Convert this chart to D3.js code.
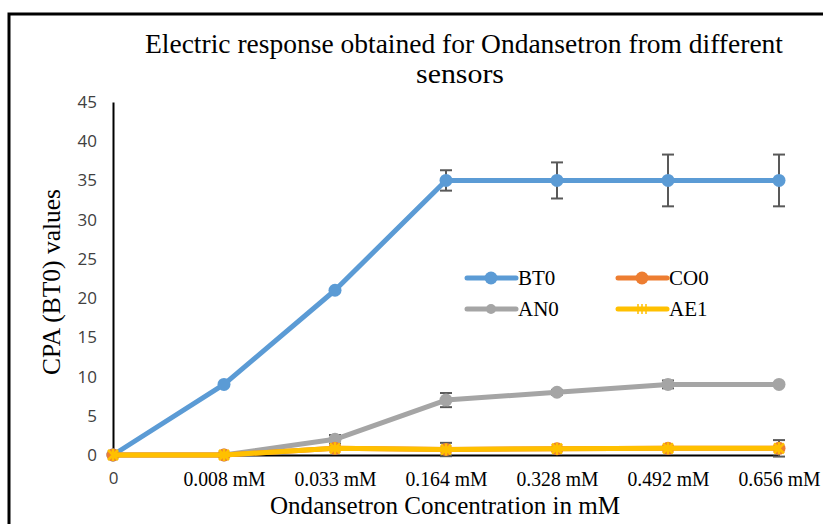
<!DOCTYPE html>
<html>
<head>
<meta charset="utf-8">
<script src="https://cdn.jsdelivr.net/npm/d3@7"></script>
<style>
  body { margin: 0; background: #fff; }
  svg { display: block; }
</style>
</head>
<body>
<div id="chart"></div>
<script>
// values
const categories = ["0", "0.008 mM", "0.033 mM", "0.164 mM", "0.328 mM", "0.492 mM", "0.656 mM"];
const yTicks = [0, 5, 10, 15, 20, 25, 30, 35, 40, 45];

const bt0 = [0, 9, 21, 35, 35, 35, 35];
const bt0Err = [0, 0, 0, 1.3, 2.3, 3.3, 3.3];
const co0 = [0, 0, 0.85, 0.7, 0.8, 0.85, 0.85];
const co0Err = [0, 0, 0.2, 0.85, 0.2, 0.2, 1.05];
const an0 = [0, 0, 2, 7, 8, 9, 9];
const an0Err = [0, 0, 0.55, 0.9, 0.3, 0.5, 0.2];
const ae1 = [0, 0, 0.85, 0.7, 0.8, 0.85, 0.85];

const series = [
  { name: "BT0", values: bt0, err: bt0Err, color: "#5B9BD5", marker: "circle" },
  { name: "AN0", values: an0, err: an0Err, color: "#A5A5A5", marker: "circle" },
  { name: "CO0", values: co0, err: co0Err, color: "#ED7D31", marker: "circle" },
  { name: "AE1", values: ae1, err: null, color: "#FFC000", marker: "star" }
];
const legendOrder = ["BT0", "CO0", "AN0", "AE1"];

const width = 823, height = 524;
const margin = { top: 102, right: 44, bottom: 69, left: 113 };
const serif = "'Liberation Serif', 'Times New Roman', serif";
const sans = "'Open Sans', 'Liberation Sans', sans-serif";

const svg = d3.select("#chart").append("svg")
  .attr("width", width)
  .attr("height", height);

// outer frame (only top and left edges are visible in the picture)
svg.append("path")
  .attr("d", `M9,${height} V14 H${width}`)
  .attr("fill", "none")
  .attr("stroke", "#000")
  .attr("stroke-width", 3);

const x = d3.scalePoint()
  .domain(categories)
  .range([margin.left, width - margin.right]);

const y = d3.scaleLinear()
  .domain([0, 45])
  .range([height - margin.bottom, margin.top]);

// title
const title = svg.append("text")
  .attr("text-anchor", "middle")
  .attr("font-family", serif)
  .attr("font-size", 28)
  .attr("fill", "#000");
title.append("tspan").attr("x", 464).attr("y", 53)
  .attr("textLength", 638).attr("lengthAdjust", "spacingAndGlyphs")
  .text("Electric  response obtained for Ondansetron from different");
title.append("tspan").attr("x", 460).attr("y", 83)
  .attr("textLength", 88).attr("lengthAdjust", "spacingAndGlyphs")
  .text("sensors");

// y axis
const yAxis = svg.append("g")
  .attr("transform", `translate(${margin.left},0)`)
  .call(d3.axisLeft(y).tickValues(yTicks).tickSize(0).tickPadding(16));
yAxis.select(".domain").attr("stroke", "#000").attr("stroke-width", 2);
yAxis.selectAll("text")
  .attr("font-family", sans)
  .attr("font-size", 17)
  .attr("fill", "#404040");

// x axis
const xAxis = svg.append("g")
  .attr("transform", `translate(0,${y(0)})`)
  .call(d3.axisBottom(x).tickSize(0).tickPadding(17));
xAxis.select(".domain").attr("stroke", "#000").attr("stroke-width", 2);
xAxis.selectAll("text")
  .attr("font-family", (d, i) => i === 0 ? sans : serif)
  .attr("font-size", (d, i) => i === 0 ? 17 : 20)
  .attr("fill", (d, i) => i === 0 ? "#404040" : "#000")
  .attr("textLength", (d, i) => i === 0 ? null : 82)
  .attr("lengthAdjust", "spacingAndGlyphs");

// axis titles
svg.append("text")
  .attr("x", 445).attr("y", 514)
  .attr("text-anchor", "middle")
  .attr("font-family", serif)
  .attr("font-size", 25)
  .attr("textLength", 350).attr("lengthAdjust", "spacingAndGlyphs")
  .text("Ondansetron Concentration in mM");

svg.append("text")
  .attr("transform", "translate(60,282) rotate(-90)")
  .attr("text-anchor", "middle")
  .attr("font-family", serif)
  .attr("font-size", 25)
  .attr("textLength", 186).attr("lengthAdjust", "spacingAndGlyphs")
  .text("CPA (BT0) values");

// lines
const line = d3.line()
  .x((d, i) => x(categories[i]))
  .y(d => y(d));

const starPath = "M-5,-5L5,5M-5,5L5,-5M0,-6V6";

series.forEach(s => {
  const g = svg.append("g").attr("class", "series");

  // error bars
  if (s.err) {
    s.values.forEach((v, i) => {
      const e = s.err[i];
      if (!e) return;
      const cx = x(categories[i]);
      const eg = g.append("g").attr("stroke", "#595959").attr("stroke-width", 2);
      eg.append("line").attr("x1", cx).attr("x2", cx).attr("y1", y(v - e)).attr("y2", y(v + e));
      eg.append("line").attr("x1", cx - 6).attr("x2", cx + 6).attr("y1", y(v + e)).attr("y2", y(v + e));
      eg.append("line").attr("x1", cx - 6).attr("x2", cx + 6).attr("y1", y(v - e)).attr("y2", y(v - e));
    });
  }

  g.append("path")
    .datum(s.values)
    .attr("d", line)
    .attr("fill", "none")
    .attr("stroke", s.color)
    .attr("stroke-width", 5)
    .attr("stroke-linejoin", "round");

  if (s.marker === "circle") {
    g.selectAll("circle")
      .data(s.values)
      .join("circle")
      .attr("cx", (d, i) => x(categories[i]))
      .attr("cy", d => y(d))
      .attr("r", 6.5)
      .attr("fill", s.color);
  } else {
    g.selectAll("path.mk")
      .data(s.values)
      .join("path")
      .attr("class", "mk")
      .attr("transform", (d, i) => `translate(${x(categories[i])},${y(d)})`)
      .attr("d", starPath)
      .attr("stroke", s.color)
      .attr("stroke-width", 2.5)
      .attr("fill", "none");
  }
});

// legend
const legendPos = [[467, 278], [618, 278], [467, 309], [618, 309]];
legendOrder.forEach((name, i) => {
  const s = series.find(d => d.name === name);
  const [lx, ly] = legendPos[i];
  const lg = svg.append("g").attr("transform", `translate(${lx},${ly})`);
  lg.append("line")
    .attr("x1", 0).attr("x2", 49)
    .attr("stroke", s.color).attr("stroke-width", 5)
    .attr("stroke-linecap", "round");
  if (s.marker === "circle") {
    lg.append("circle").attr("cx", 24).attr("r", name === "AN0" ? 5 : 6.5).attr("fill", s.color);
  } else {
    lg.append("path").attr("transform", "translate(24,0)")
      .attr("d", "M-4,-5V5M0,-5V5M4,-5V5")
      .attr("stroke", s.color).attr("stroke-width", 1.5);
  }
  lg.append("text")
    .attr("x", 51).attr("y", 7)
    .attr("font-family", serif)
    .attr("font-size", 21)
    .attr("fill", "#000")
    .text(name);
});
</script>
</body>
</html>
